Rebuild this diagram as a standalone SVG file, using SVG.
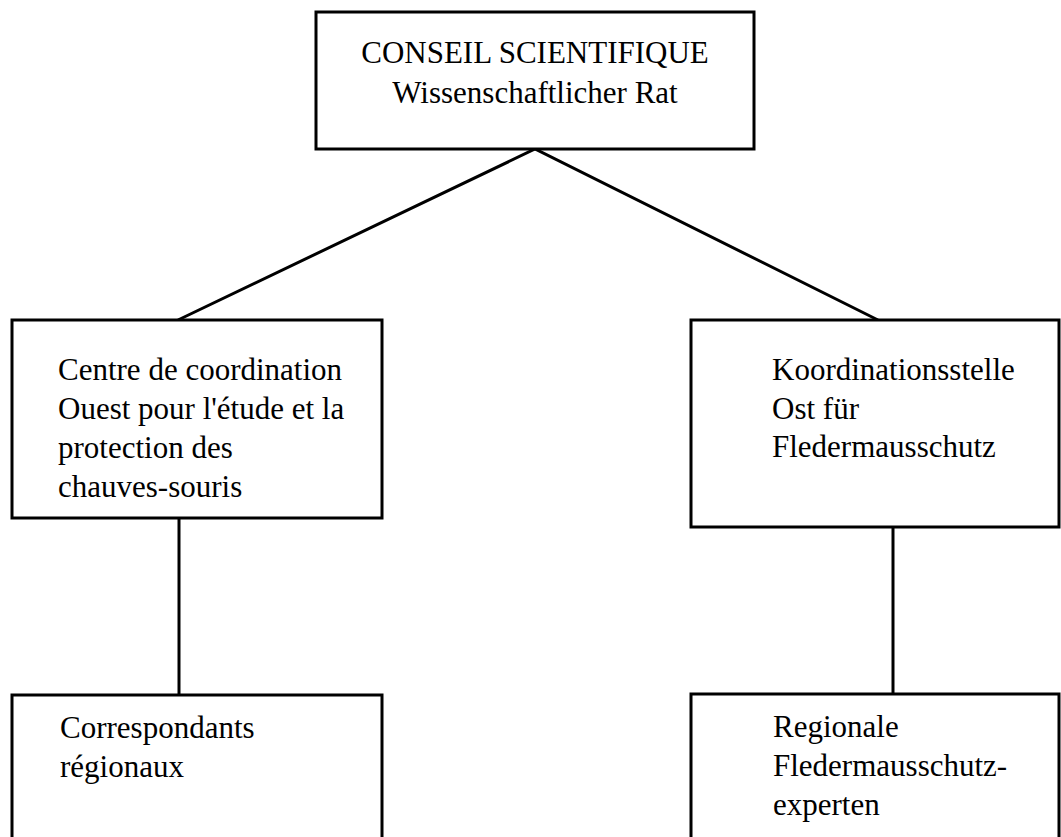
<svg xmlns="http://www.w3.org/2000/svg" width="1061" height="837" viewBox="0 0 1061 837">
  <style>
    .box { fill: #ffffff; stroke: #000000; stroke-width: 3; }
    .link { fill: none; stroke: #000000; stroke-width: 3; }
    text { font-family: "Liberation Serif", "Times New Roman", serif; font-size: 31px; fill: #000000; }
  </style>
  <rect width="1061" height="837" fill="#ffffff"/>

  <!-- connectors -->
  <g id="connectors">
    <polyline class="link" points="178,320 535,149 878,320"/>
    <line class="link" x1="179" y1="518" x2="179" y2="695"/>
    <line class="link" x1="893" y1="527" x2="893" y2="694"/>
  </g>

  <!-- scientific council -->
  <g id="council">
    <rect class="box" x="316" y="12" width="438" height="137"/>
    <text x="535" y="63" text-anchor="middle">CONSEIL SCIENTIFIQUE</text>
    <text x="535" y="103" text-anchor="middle">Wissenschaftlicher Rat</text>
  </g>

  <!-- western coordination centre -->
  <g id="west-centre">
    <rect class="box" x="12" y="320" width="370" height="198"/>
    <text x="58" y="380">Centre de coordination</text>
    <text x="58" y="419">Ouest pour l'étude et la</text>
    <text x="58" y="458">protection des</text>
    <text x="58" y="497">chauves-souris</text>
  </g>

  <!-- eastern coordination centre -->
  <g id="east-centre">
    <rect class="box" x="691" y="320" width="368" height="207"/>
    <text x="772" y="380">Koordinationsstelle</text>
    <text x="772" y="418.5">Ost für</text>
    <text x="772" y="457">Fledermausschutz</text>
  </g>

  <!-- regional correspondents -->
  <g id="west-regional">
    <rect class="box" x="12" y="695" width="370" height="160"/>
    <text x="60" y="738">Correspondants</text>
    <text x="60" y="777">régionaux</text>
  </g>

  <!-- regional bat experts -->
  <g id="east-regional">
    <rect class="box" x="691" y="694" width="368" height="160"/>
    <text x="773" y="737">Regionale</text>
    <text x="773" y="776">Fledermausschutz-</text>
    <text x="773" y="815">experten</text>
  </g>
</svg>
